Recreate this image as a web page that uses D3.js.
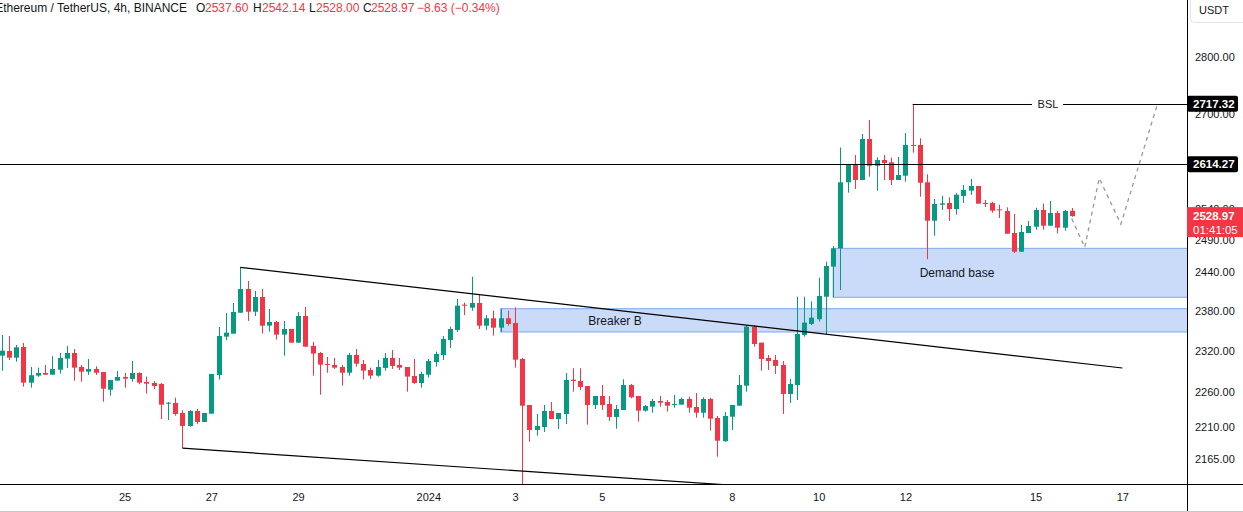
<!DOCTYPE html>
<html><head><meta charset="utf-8">
<script src="https://cdn.jsdelivr.net/npm/d3@7"></script>
<style>
body{margin:0;background:#fff;}
svg{display:block;font-family:"Liberation Sans",Arial,sans-serif;}
</style>
</head><body>
<svg id="c" width="1243" height="512"></svg>
<script>
// ---------- DATA ----------
const startTime = Date.UTC(2023, 11, 22, 4); // first 4h candle
const candleMs = 4 * 3600 * 1000;

const opens = [2313.0,2319.9,2310.0,2325.9,2273.4,2283.6,2287.5,2285.0,2292.3,2308.5,
2317.0,2296.3,2289.4,2293.4,2289.0,2263.1,2276.3,2281.7,2278.8,2287.5,
2274.4,2272.9,2271.5,2243.0,2244.0,2229.7,2211.2,2232.6,2216.9,2228.7,
2284.6,2341.3,2345.8,2377.4,2413.8,2378.9,2401.5,2357.8,2363.4,2344.3,
2352.8,2332.3,2372.4,2327.4,2317.0,2300.7,2299.3,2296.3,2287.9,2314.0,
2300.7,2291.9,2283.6,2294.9,2309.6,2299.3,2296.3,2283.1,2272.9,2285.0,
2303.6,2314.0,2336.3,2351.3,2389.7,2385.1,2392.3,2357.8,2369.0,2354.8,
2369.0,2361.9,2308.1,2241.1,2205.6,2209.8,2232.6,2221.1,2228.3,2277.7,
2275.8,2268.5,2241.1,2254.1,2242.6,2224.0,2234.0,2270.0,2254.1,2233.0,
2238.7,2246.9,2245.4,2241.6,2241.6,2249.8,2238.3,2230.1,2249.8,2222.6,
2189.7,2224.4,2240.1,2269.0,2356.3,2332.3,2309.6,2306.6,2299.3,2257.0,
2270.0,2343.8,2360.4,2367.5,2401.9,2448.5,2477.4,2584.3,2613.0,2588.1,
2656.9,2611.8,2621.4,2617.6,2588.1,2595.2,2646.8,2646.8,2584.3,2521.6,
2547.5,2550.3,2540.5,2561.8,2570.5,2578.2,2550.3,2550.3,2540.0,2537.3,
2501.8,2472.0,2501.8,2511.9,2538.9,2513.5,2534.0,2510.3,2537.60];

const highs = [2343.8,2342.3,2328.9,2331.8,2296.3,2295.3,2299.3,2312.1,2317.0,2327.4,
2322.9,2299.3,2308.1,2297.3,2289.0,2277.3,2290.4,2287.5,2305.1,2288.5,
2282.2,2275.8,2272.9,2245.4,2251.6,2233.6,2234.0,2235.4,2229.7,2286.0,
2355.8,2376.9,2392.3,2447.5,2426.2,2410.7,2413.8,2383.0,2364.9,2364.9,
2352.8,2378.5,2386.1,2333.3,2318.5,2311.0,2309.6,2299.3,2317.0,2322.9,
2306.6,2295.3,2306.6,2317.0,2321.4,2309.6,2296.3,2308.1,2289.4,2308.1,
2319.0,2342.3,2356.3,2398.4,2392.8,2432.8,2404.6,2373.9,2380.4,2383.5,
2380.4,2385.6,2309.6,2241.1,2228.3,2241.1,2245.4,2229.7,2287.5,2294.4,
2294.4,2268.5,2254.1,2270.0,2254.1,2241.1,2278.3,2271.5,2254.1,2241.1,
2249.8,2254.1,2248.3,2255.5,2251.6,2253.1,2258.4,2252.2,2251.6,2225.4,
2231.1,2241.1,2284.6,2358.8,2358.8,2332.3,2314.0,2314.0,2305.1,2278.8,
2401.9,2401.9,2394.8,2431.2,2456.4,2481.1,2642.4,2614.7,2629.9,2665.4,
2689.4,2626.0,2629.9,2625.3,2626.5,2667.1,2717.32,2658.1,2597.6,2556.8,
2562.2,2559.6,2566.2,2579.8,2589.8,2578.2,2555.2,2552.4,2547.5,2543.3,
2532.4,2514.6,2521.1,2542.6,2549.2,2553.6,2537.8,2538.9,2542.14];

const lows = [2290.9,2306.6,2304.1,2267.5,2266.1,2281.7,2285.0,2285.0,2286.5,2294.9,
2276.3,2274.8,2284.6,2284.6,2245.9,2254.5,2276.3,2266.1,2274.8,2271.0,
2257.4,2264.2,2221.1,2219.7,2225.9,2180.0,2210.3,2214.1,2216.9,2228.7,
2277.7,2335.9,2345.8,2377.4,2364.9,2372.4,2345.8,2348.8,2336.8,2313.0,
2332.3,2332.3,2326.3,2283.6,2255.9,2287.9,2293.4,2269.0,2283.6,2296.8,
2277.7,2278.8,2282.2,2290.9,2293.4,2291.9,2260.3,2271.5,2266.1,2280.6,
2296.8,2306.6,2324.4,2348.3,2373.9,2380.4,2352.8,2351.3,2342.8,2348.3,
2357.8,2295.3,2110.0,2189.1,2197.6,2202.8,2221.1,2207.0,2214.1,2260.3,
2262.7,2213.1,2235.4,2234.0,2218.3,2207.4,2234.0,2250.7,2217.3,2231.6,
2230.1,2238.7,2231.6,2237.3,2241.6,2230.1,2223.0,2223.0,2204.6,2168.3,
2189.1,2205.6,2240.1,2260.3,2326.3,2290.9,2291.9,2286.0,2228.3,2244.0,
2248.3,2341.3,2358.8,2363.8,2344.8,2401.0,2412.2,2567.2,2573.3,2588.1,
2593.6,2570.5,2588.1,2579.8,2588.1,2585.3,2633.7,2560.6,2460.1,2497.5,
2538.9,2521.1,2531.5,2550.3,2563.5,2549.2,2543.8,2534.5,2525.9,2500.7,
2470.0,2472.0,2501.8,2507.1,2507.1,2513.5,2501.3,2505.5,2528.00];

const closes = [2320.4,2310.0,2325.4,2273.4,2284.2,2287.5,2285.0,2293.4,2309.6,2317.0,
2295.3,2289.4,2293.4,2287.9,2264.6,2277.3,2281.7,2279.2,2287.5,2273.4,
2271.9,2268.5,2241.6,2244.4,2228.3,2211.2,2232.6,2216.9,2229.7,2286.0,
2342.3,2347.3,2378.5,2413.8,2378.9,2401.5,2357.8,2363.4,2344.3,2352.8,
2332.3,2372.4,2326.3,2316.0,2299.7,2299.7,2295.3,2287.9,2314.0,2301.1,
2290.9,2283.6,2296.3,2309.6,2297.8,2295.3,2282.2,2272.9,2286.0,2305.1,
2315.5,2337.8,2352.8,2388.2,2388.2,2392.3,2357.8,2369.0,2354.8,2369.0,
2360.4,2307.0,2240.1,2205.6,2211.2,2232.6,2221.1,2229.7,2277.3,2275.8,
2267.1,2241.1,2254.1,2241.1,2224.0,2235.4,2270.0,2252.2,2233.0,2239.7,
2246.9,2244.4,2240.1,2242.6,2249.8,2237.3,2230.1,2249.8,2221.6,2190.5,
2225.4,2241.1,2270.0,2356.3,2330.3,2308.1,2305.1,2297.8,2257.0,2271.5,
2345.3,2362.4,2369.9,2403.0,2449.6,2477.4,2584.3,2613.0,2588.1,2656.9,
2611.8,2621.4,2616.4,2588.1,2596.4,2646.8,2645.1,2583.6,2521.6,2548.7,
2549.8,2540.5,2563.9,2571.6,2578.2,2549.2,2548.7,2537.8,2538.4,2500.7,
2472.0,2503.4,2513.0,2538.9,2513.5,2534.0,2510.3,2537.3,2528.97];

const priceTicks = [2165, 2210, 2260, 2320, 2380, 2440, 2490, 2540, 2700, 2800];
const dateTicks = [
  [2023,11,25], [2023,11,27], [2023,11,29], [2024,0,1], [2024,0,3], [2024,0,5],
  [2024,0,8], [2024,0,10], [2024,0,12], [2024,0,15], [2024,0,17]].map(a => new Date(Date.UTC(a[0], a[1], a[2])));

// annotations (time, price)
const upperChannel = [{t: startTime + 33*candleMs, p: 2447.5}, {t: Date.UTC(2024,0,17), p: 2294.8}];
const lowerChannel = [{t: startTime + 25*candleMs, p: 2180.0}, {t: Date.UTC(2024,0,17), p: 2093.5}];
const levelLine = 2614.27;
const bslLevel = {t: startTime + 126*candleMs, p: 2717.32, label: "BSL"};
const breakerBox = {t: startTime + 69*candleMs, top: 2383.5, bottom: 2348.3, label: "Breaker B"};
const demandBox = {t: startTime + 115*candleMs, top: 2477.4, bottom: 2401.0, label: "Demand base"};
const projection = [
  {t: startTime + 148*candleMs, p: 2525},
  {t: startTime + 149.8*candleMs, p: 2479},
  {t: startTime + 151.8*candleMs, p: 2591},
  {t: startTime + 154.8*candleMs, p: 2516},
  {t: startTime + 159.9*candleMs, p: 2719}];

const header = {title: "Ethereum / TetherUS, 4h, BINANCE", o: "2537.60", h: "2542.14", l: "2528.00", c: "2528.97", chg: "\u22128.63 (\u22120.34%)"};
const lastClose = 2528.97, countdown = "01:41:05";

// ---------- CHART ----------
const W = 1243, H = 512, plotR = 1187, plotB = 484;
const UP = "#089981", DN = "#f23645", INK = "#131722";
const svg = d3.select("#c");

const candles = opens.map((o, i) => ({t: startTime + i*candleMs, o, h: highs[i], l: lows[i], c: closes[i]}));

const x = d3.scaleUtc().domain([startTime, startTime + 148*candleMs]).range([1.7, 1.7 + 148*7.23]);
const y = d3.scaleLog().domain([2165, 2800]).range([459, 57]);

svg.append("defs").append("clipPath").attr("id", "plot")
  .append("rect").attr("x", 0).attr("y", 0).attr("width", plotR).attr("height", plotB);

const plot = svg.append("g").attr("clip-path", "url(#plot)");

// boxes
[breakerBox, demandBox].forEach(b => {
  plot.append("rect")
    .attr("x", x(b.t)).attr("y", y(b.top))
    .attr("width", plotR + 5 - x(b.t)).attr("height", y(b.bottom) - y(b.top))
    .attr("fill", "#c9dbf8").attr("stroke", "#7ea7ef").attr("stroke-width", 1);
});

// candles
const bw = 5;
const cg = plot.append("g");
cg.selectAll("line").data(candles).join("line")
  .attr("x1", d => Math.round(x(d.t)) + 0.5).attr("x2", d => Math.round(x(d.t)) + 0.5)
  .attr("y1", d => y(d.h)).attr("y2", d => y(d.l))
  .attr("stroke", d => d.c >= d.o ? UP : DN).attr("stroke-width", 1);
cg.selectAll("rect").data(candles).join("rect")
  .attr("x", d => Math.round(x(d.t)) + 0.5 - bw/2)
  .attr("y", d => y(Math.max(d.o, d.c)))
  .attr("width", bw)
  .attr("height", d => Math.max(1, y(Math.min(d.o, d.c)) - y(Math.max(d.o, d.c))))
  .attr("fill", d => d.c >= d.o ? UP : DN);

// box labels
plot.append("text").attr("x", 615).attr("y", (y(breakerBox.top) + y(breakerBox.bottom)) / 2)
  .attr("dy", "0.35em").attr("text-anchor", "middle").attr("font-size", 12).attr("fill", INK).text(breakerBox.label);
plot.append("text").attr("x", 957).attr("y", (y(demandBox.top) + y(demandBox.bottom)) / 2)
  .attr("dy", "0.35em").attr("text-anchor", "middle").attr("font-size", 12).attr("fill", INK).text(demandBox.label);

// channel lines
const line = d3.line().x(d => x(d.t)).y(d => y(d.p));
[upperChannel, lowerChannel].forEach(l => {
  plot.append("path").attr("d", line(l)).attr("fill", "none").attr("stroke", "#000").attr("stroke-width", 1.2);
});

// horizontal level
plot.append("line").attr("x1", 0).attr("x2", plotR).attr("y1", Math.round(y(levelLine)) + 0.5).attr("y2", Math.round(y(levelLine)) + 0.5)
  .attr("stroke", "#000").attr("stroke-width", 1);

// BSL line with label gap
const by = Math.round(y(bslLevel.p)) + 0.5;
plot.append("line").attr("x1", x(bslLevel.t)).attr("x2", 1032).attr("y1", by).attr("y2", by).attr("stroke", "#000");
plot.append("line").attr("x1", 1063).attr("x2", plotR).attr("y1", by).attr("y2", by).attr("stroke", "#000");
plot.append("text").attr("x", 1048).attr("y", by).attr("dy", "0.35em").attr("text-anchor", "middle")
  .attr("font-size", 11).attr("fill", INK).text(bslLevel.label);

// projection
plot.append("path").attr("d", line(projection)).attr("fill", "none").attr("stroke", "#9598a1")
  .attr("stroke-width", 1.3).attr("stroke-dasharray", "4,4");

// ---------- AXES ----------
svg.append("line").attr("x1", 0).attr("x2", W).attr("y1", plotB + 0.5).attr("y2", plotB + 0.5).attr("stroke", "#000");
svg.append("line").attr("x1", plotR + 0.5).attr("x2", plotR + 0.5).attr("y1", 0).attr("y2", H).attr("stroke", "#000");
svg.append("line").attr("x1", 0).attr("x2", W).attr("y1", H - 0.5).attr("y2", H - 0.5).attr("stroke", "#c9c9c9");

const xAxis = d3.axisBottom(x).tickValues(dateTicks).tickSize(0).tickPadding(9)
  .tickFormat(d => (d.getUTCMonth() === 0 && d.getUTCDate() === 1) ? String(d.getUTCFullYear()) : String(d.getUTCDate()));
const gx = svg.append("g").attr("transform", `translate(0,${plotB})`).call(xAxis);
gx.select(".domain").remove();
gx.selectAll("text").attr("font-size", 11).attr("fill", INK).attr("font-family", "Liberation Sans, Arial, sans-serif");

const yAxis = d3.axisRight(y).tickValues(priceTicks).tickSize(0).tickPadding(8).tickFormat(d3.format(".2f"));
const gy = svg.append("g").attr("transform", `translate(${plotR},0)`).call(yAxis);
gy.select(".domain").remove();
gy.selectAll("text").attr("font-size", 11).attr("fill", INK).attr("font-family", "Liberation Sans, Arial, sans-serif");

// USDT box
svg.append("rect").attr("x", 1190.5).attr("y", -4).attr("width", 56).attr("height", 26.5).attr("rx", 4)
  .attr("fill", "#fff").attr("stroke", "#e0e3eb");
svg.append("text").attr("x", 1199).attr("y", 10).attr("dy", "0.35em").attr("font-size", 11).attr("fill", INK).text("USDT");

// price badges
function badge(p, fill) {
  const yy = y(p);
  svg.append("rect").attr("x", plotR).attr("y", yy - 8).attr("width", 51).attr("height", 16).attr("rx", 2).attr("fill", fill);
  svg.append("text").attr("x", 1193).attr("y", yy).attr("dy", "0.35em").attr("font-size", 11.5).attr("font-weight", "bold")
    .attr("fill", "#fff").text(d3.format(".2f")(p));
}
badge(bslLevel.p, "#000");
badge(levelLine, "#000");
const ly = y(lastClose);
svg.append("rect").attr("x", plotR).attr("y", ly - 9).attr("width", W - plotR).attr("height", 30).attr("fill", DN);
svg.append("text").attr("x", 1193).attr("y", ly).attr("dy", "0.35em").attr("font-size", 11.5).attr("font-weight", "bold").attr("fill", "#fff").text(d3.format(".2f")(lastClose));
svg.append("text").attr("x", 1193).attr("y", ly + 14).attr("dy", "0.35em").attr("font-size", 11.5).attr("fill", "#fff").text(countdown);

// ---------- HEADER ----------
const hg = svg.append("g").attr("font-size", 12);
hg.append("text").attr("x", 187).attr("y", 8).attr("dy", "0.35em").attr("text-anchor", "end").attr("fill", INK).text(header.title);
const parts = [["O", 196, INK], [header.o, 205, DN], ["H", 253, INK], [header.h, 262, DN],
  ["L", 309, INK], [header.l, 316, DN], ["C", 363, INK], [header.c, 371, DN], [header.chg, 417, DN]];
parts.forEach(([t, xx, col]) => hg.append("text").attr("x", xx).attr("y", 8).attr("dy", "0.35em").attr("fill", col).text(t));
</script>
</body></html>
